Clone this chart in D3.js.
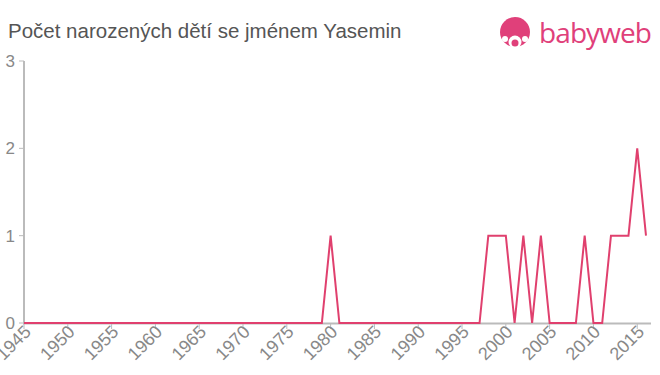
<!DOCTYPE html>
<html lang="cs">
<head>
<meta charset="utf-8">
<title>Yasemin</title>
<script src="https://cdn.jsdelivr.net/npm/d3@7"></script>
<style>
body { margin: 0; background: #fff; }
svg { font-family: "Liberation Sans", Arial, sans-serif; }
</style>
</head>
<body>
<svg width="660" height="375"></svg>
<script>
var years = d3.range(1945, 2017);
var countsByYear = {1980: 1, 1998: 1, 1999: 1, 2000: 1, 2002: 1, 2004: 1, 2009: 1,
                    2012: 1, 2013: 1, 2014: 1, 2015: 2, 2016: 1};
var counts = years.map(function(y) { return countsByYear[y] || 0; });
var xTicks = d3.range(1945, 2016, 5);
var yTicks = [0, 1, 2, 3];

var svg = d3.select("svg");
var x = d3.scaleLinear().domain([1945, 2016]).range([24, 646]);
var y = d3.scaleLinear().domain([0, 3]).range([323, 61]);

svg.append("text")
    .attr("x", 8).attr("y", 38)
    .style("font-size", "20.5px").style("fill", "#555")
    .text("Počet narozených dětí se jménem Yasemin");

// axes
svg.append("line").attr("x1", 24).attr("x2", 24).attr("y1", 61).attr("y2", 323)
    .style("stroke", "#bbb").style("stroke-width", 2);
svg.append("line").attr("x1", 23).attr("x2", 651).attr("y1", 323.5).attr("y2", 323.5)
    .style("stroke", "#bbb").style("stroke-width", 2);

svg.selectAll(".ytick").data(yTicks).enter().append("line")
    .attr("x1", 19).attr("x2", 24)
    .attr("y1", function(d) { return y(d); }).attr("y2", function(d) { return y(d); })
    .style("stroke", "#bbb").style("stroke-width", 1);
svg.selectAll(".ylab").data(yTicks).enter().append("text")
    .attr("x", 15).attr("y", function(d) { return y(d) + 6; })
    .attr("text-anchor", "end")
    .style("font-size", "17px").style("fill", "#888")
    .text(function(d) { return d; });

svg.selectAll(".xtick").data(xTicks).enter().append("line")
    .attr("x1", function(d) { return x(d); }).attr("x2", function(d) { return x(d); })
    .attr("y1", 323).attr("y2", 329)
    .style("stroke", "#bbb").style("stroke-width", 1);
svg.selectAll(".xlab").data(xTicks).enter().append("text")
    .attr("transform", function(d) { return "translate(" + (x(d) + 8) + ",333) rotate(-45)"; })
    .attr("text-anchor", "end")
    .style("font-size", "18px").style("fill", "#888")
    .text(function(d) { return d; });

svg.append("path")
    .datum(counts)
    .attr("d", d3.line().x(function(d, i) { return x(years[i]); }).y(function(d) { return y(d); }))
    .style("fill", "none").style("stroke", "#e0406e").style("stroke-width", 2);

// logo
var logo = svg.append("g").attr("transform", "translate(500,17)");
logo.append("circle").attr("cx", 15).attr("cy", 15).attr("r", 15).style("fill", "#e0407a");
logo.append("circle").attr("cx", 15).attr("cy", 25).attr("r", 6.5).style("fill", "#fff");
logo.append("circle").attr("cx", 15).attr("cy", 26).attr("r", 3.5).style("fill", "#e0407a");
logo.append("circle").attr("cx", 5).attr("cy", 22).attr("r", 3).style("fill", "#fff");
logo.append("circle").attr("cx", 25).attr("cy", 22).attr("r", 3).style("fill", "#fff");
logo.append("text").attr("x", 39).attr("y", 26)
    .style("font-size", "28px").style("fill", "#e0407a").style("font-family", "'Open Sans', sans-serif")
    .attr("textLength", 113)
    .text("babyweb");
</script>
</body>
</html>
